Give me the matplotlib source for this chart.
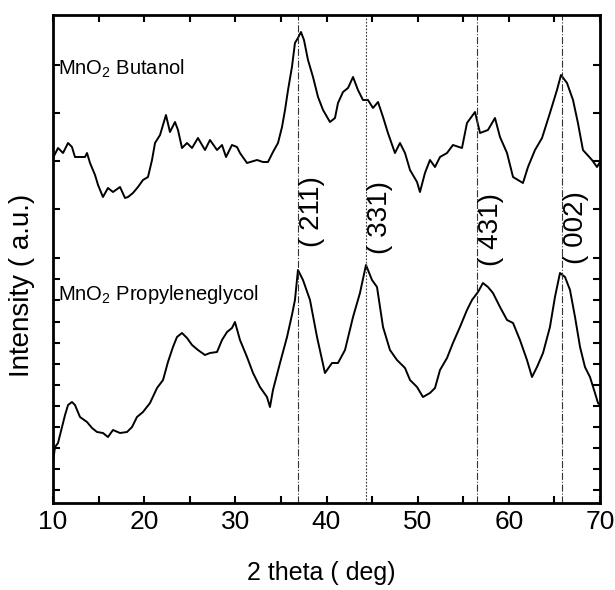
import matplotlib
matplotlib.use("Agg")
import matplotlib.pyplot as plt
from matplotlib.ticker import MultipleLocator, FixedLocator, NullFormatter

plt.rcParams['font.family'] = ['Liberation Sans', 'DejaVu Sans']
plt.rcParams['mathtext.default'] = 'regular'

# ---- data (2 theta in degrees, intensity in arbitrary units) ----
butanol_2theta = [10.00, 10.55, 11.10, 11.65, 12.08, 12.41, 13.51, 13.73, 14.06, 14.61,
                  14.94, 15.48, 16.03, 16.58, 17.35, 17.90, 18.23, 18.77, 19.32, 19.87,
                  20.42, 20.86, 21.19, 21.74, 22.39, 22.83, 23.38, 23.71, 24.15, 24.70,
                  25.25, 25.90, 26.67, 27.22, 27.99, 28.54, 28.98, 29.63, 30.18, 30.51,
                  31.28, 32.38, 33.03, 33.58, 34.13, 34.68, 35.12, 35.45, 35.78, 36.21,
                  36.54, 36.87, 37.20, 37.53, 37.97, 38.52, 39.07, 39.62, 40.38, 40.93,
                  41.26, 41.81, 42.36, 42.91, 43.45, 44.00, 44.55, 45.10, 45.65, 46.20,
                  46.74, 47.51, 48.06, 48.61, 49.16, 49.93, 50.25, 50.80, 51.35, 51.90,
                  52.45, 53.22, 53.87, 54.86, 55.41, 56.29, 56.84, 57.71, 58.48, 59.03,
                  59.80, 60.46, 61.55, 62.10, 62.87, 63.64, 64.51, 65.28, 65.72, 66.38,
                  67.04, 67.58, 68.13, 69.12, 69.67, 70.00]
butanol_int = [345, 355, 350, 360, 356, 346, 346, 350, 340, 328,
               318, 306, 315, 311, 316, 305, 306, 310, 316, 323,
               326, 343, 360, 368, 388, 371, 381, 373, 355, 360,
               355, 365, 353, 363, 353, 358, 346, 358, 356, 350,
               340, 343, 341, 341, 351, 360, 376, 393, 413, 436,
               460, 465, 471, 463, 443, 426, 406, 393, 381, 385,
               400, 411, 415, 426, 413, 403, 403, 395, 401, 386,
               370, 350, 360, 350, 333, 321, 311, 330, 343, 336,
               346, 350, 358, 355, 380, 391, 370, 373, 385, 366,
               350, 326, 320, 336, 353, 365, 390, 413, 428, 420,
               403, 380, 353, 343, 336, 341]

propylene_2theta = [10.00, 10.22, 10.55, 10.99, 11.32, 11.65, 12.08, 12.41, 12.96, 13.73,
                    14.28, 14.83, 15.48, 16.03, 16.58, 17.35, 18.12, 18.67, 19.21, 19.87,
                    20.64, 21.41, 22.07, 22.61, 23.16, 23.60, 24.15, 24.70, 25.25, 25.90,
                    26.67, 27.22, 27.99, 28.54, 29.09, 29.63, 29.96, 30.51, 31.28, 31.94,
                    32.70, 33.47, 33.80, 34.13, 34.90, 35.67, 36.21, 36.54, 36.87, 37.42,
                    38.19, 38.96, 39.83, 40.60, 41.26, 42.03, 42.91, 43.67, 44.33, 44.99,
                    45.54, 46.20, 46.96, 47.73, 48.61, 49.16, 49.93, 50.58, 51.35, 51.90,
                    52.45, 53.22, 53.87, 54.64, 55.41, 55.96, 56.62, 57.16, 57.71, 58.26,
                    59.03, 59.80, 60.46, 61.22, 61.99, 62.54, 63.09, 63.75, 64.51, 65.06,
                    65.61, 66.16, 66.71, 67.26, 67.81, 68.35, 68.90, 69.45, 69.78, 70.00]
propylene_int = [41, 56, 60, 76, 88, 98, 101, 98, 86, 81,
                 75, 71, 70, 66, 73, 70, 71, 76, 86, 91,
                 100, 115, 123, 141, 156, 166, 170, 165, 158, 153,
                 148, 150, 151, 163, 171, 175, 181, 163, 146, 130,
                 116, 106, 96, 113, 140, 166, 188, 203, 233, 223,
                 203, 166, 130, 140, 140, 153, 186, 210, 238, 223,
                 216, 176, 153, 143, 135, 123, 116, 106, 110, 115,
                 133, 145, 160, 176, 193, 203, 211, 220, 216, 210,
                 196, 183, 180, 163, 143, 126, 136, 150, 176, 206,
                 230, 226, 213, 186, 156, 136, 126, 110, 100, 98]

peak_positions = [36.85, 44.35, 56.55, 65.8]
peak_labels = ["( 211)", "( 331)", "( 431)", "( 002)"]
peak_label_heights = [291, 285, 274, 275]

sample_labels = ["MnO$_2$ Butanol", "MnO$_2$ Propyleneglycol"]
sample_label_pos = [(10.5, 428), (10.6, 203)]

x_ticks = [10, 20, 30, 40, 50, 60, 70]

# ---- figure ----
fig = plt.figure(figsize=(6.15, 5.9), dpi=100)
ax = fig.add_axes([53/615, 1 - 503/590, 547/615, 488/590])

ax.plot(butanol_2theta, butanol_int, color='black', lw=1.4)
ax.plot(propylene_2theta, propylene_int, color='black', lw=1.4)

styles = ['-.', (0, (1.5, 1.5)), '-.', '-.']
for xp, ls in zip(peak_positions, styles):
    ax.axvline(xp, color='#333333', lw=0.8, ls=ls)

for xp, lab, h in zip(peak_positions, peak_labels, peak_label_heights):
    ax.text(xp + 0.1, h, lab, rotation=90, ha='left', va='center', fontsize=20)

for lab, (xx, yy) in zip(sample_labels, sample_label_pos):
    ax.text(xx, yy, lab, ha='left', va='baseline', fontsize=14.5)

ax.set_xlim(10, 70)
ax.set_ylim(0, 488)
ax.set_xticks(x_ticks)
ax.xaxis.set_minor_locator(MultipleLocator(5))

ytick_px = [65, 113, 161, 209, 258, 279, 300, 322, 343, 364, 385, 406, 427, 448, 469, 490]
ax.yaxis.set_major_locator(FixedLocator([503 - p for p in ytick_px]))
ax.yaxis.set_major_formatter(NullFormatter())

ax.tick_params(axis='both', which='both', direction='in', top=True, right=True, width=1.5)
ax.tick_params(axis='both', which='major', length=5)
ax.tick_params(axis='both', which='minor', length=5)
ax.tick_params(axis='x', labelsize=19, pad=5)

for sp in ax.spines.values():
    sp.set_linewidth(2)

ax.set_xlabel("2 theta ( deg)", fontsize=18, va='center')
ax.xaxis.set_label_coords(0.49, -0.143)
ax.set_ylabel("Intensity ( a.u.)", fontsize=20, va='center')
ax.yaxis.set_label_coords(-0.057, 0.446)

fig.savefig("out.png", dpi=100)
